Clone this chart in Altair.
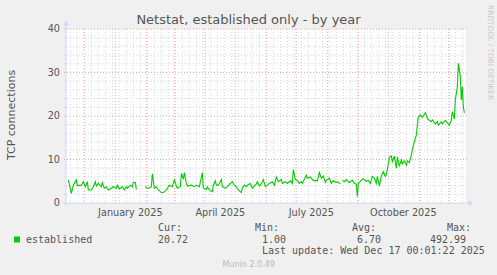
import altair as alt
import pandas as pd

# ---------------- data ----------------
START = "2024-11-12"
END = "2025-12-17"

# day offsets from START and TCP connection counts, three contiguous segments
seg1_days = [3, 6, 8, 11, 12, 16, 18, 20, 22, 23, 26, 28, 30, 31, 33, 36, 37, 39, 41, 43,
             46, 48, 51, 52, 54, 57, 59, 61, 62, 65, 67, 68, 70, 71]
seg1_vals = [5.3, 2.2, 4.1, 5.3, 4.0, 4.1, 4.9, 3.75, 4.9, 3.0, 3.0, 3.75, 4.9, 3.9, 4.5, 3.75, 4.7, 3.4, 3.75, 3.0,
             3.4, 3.75, 3.4, 4.1, 3.2, 3.75, 3.0, 3.75, 3.4, 4.1, 3.75, 4.75, 4.7, 3.1]

seg2_days = [80, 82, 84, 86, 87, 89, 91, 93, 96, 98, 101, 102, 104, 107, 109, 111, 112, 115, 116, 118,
             119, 121, 122, 126, 129, 131, 134, 137, 138, 141, 142, 144, 147, 148, 150, 151, 153, 156, 157, 160,
             162, 165, 167, 169, 171, 173, 176, 177, 179, 181, 182, 185, 187, 191, 192, 194, 196, 198, 200, 202,
             204, 207, 209, 211, 213, 216, 217, 220, 222, 225, 227, 228, 230, 232, 234, 236, 237, 241, 242, 245,
             247, 249, 251, 252, 254, 256, 258, 260, 261, 264, 266, 268, 271, 272, 275]
seg2_vals = [3.75, 3.4, 3.4, 3.75, 6.7, 3.4, 3.75, 3.0, 2.4, 2.4, 3.0, 3.4, 4.1, 3.75, 5.3, 3.9, 3.4, 3.75, 6.8, 5.5,
             7.0, 4.5, 3.9, 4.1, 3.75, 4.1, 3.75, 7.0, 3.4, 3.1, 3.75, 3.0, 2.6, 4.1, 5.1, 4.1, 4.1, 5.4, 3.75, 3.4,
             3.75, 4.5, 4.9, 4.1, 3.75, 3.0, 2.4, 3.4, 4.1, 3.75, 4.1, 4.5, 3.4, 4.4, 4.9, 3.9, 4.4, 5.4, 3.75, 4.1,
             4.5, 4.9, 4.1, 6.0, 4.9, 5.4, 4.5, 4.9, 4.5, 5.1, 4.5, 7.7, 5.4, 5.2, 4.5, 4.9, 4.5, 6.4, 5.7, 6.0,
             5.4, 5.1, 5.2, 5.1, 7.0, 5.7, 6.2, 4.7, 5.2, 5.7, 4.5, 5.1, 4.7, 4.9, 4.4]

seg3_days = [277, 279, 281, 284, 287, 289, 291, 292, 293, 296, 298, 301, 303, 305, 307, 309, 311, 312, 314, 316,
             318, 320, 321, 322, 324, 326, 327, 329, 331, 332, 334, 336, 337, 339, 341, 342, 344, 346, 347, 349,
             351, 352, 353, 355, 357, 358, 360, 362, 363, 366, 367, 370, 372, 373, 376, 377, 380, 382, 384, 386,
             387, 389, 390, 392, 393, 395, 396, 397, 398, 399]
seg3_vals = [5.2, 4.9, 5.4, 4.7, 5.2, 4.5, 4.4, 1.5, 4.5, 5.2, 5.6, 5.0, 5.2, 4.5, 6.1, 5.7, 4.5, 6.1, 3.9, 6.2,
             7.2, 6.1, 6.5, 7.7, 10.5, 10.8, 9.5, 10.8, 8.0, 10.6, 8.4, 9.9, 9.0, 9.7, 8.7, 9.7, 9.3, 11.0, 12.2, 14.1,
             15.6, 17.9, 19.8, 20.2, 19.7, 20.0, 20.8, 19.5, 19.2, 18.7, 19.1, 18.2, 18.7, 17.9, 18.7, 18.2, 19.0, 18.4, 17.9, 19.1,
             21.0, 19.3, 23.7, 26.7, 32.1, 29.0, 23.7, 26.7, 22.1, 20.72]

y_ticks = [0, 10, 20, 30, 40]
y_minor = [2, 4, 6, 8, 12, 14, 16, 18, 22, 24, 26, 28, 32, 34, 36, 38]
y_major = [10, 20, 30, 40]
x_label_dates = ["2025-01-16", "2025-04-16", "2025-07-16", "2025-10-16"]
x_label_text = ["January 2025", "April 2025", "July 2025", "October 2025"]

TITLE = "Netstat, established only - by year"
YTITLE = "TCP connections"
SERIES = "established"
CUR, MIN, AVG, MAX = "20.72", "1.00", "6.70", "492.99"
LAST_UPDATE = "Last update: Wed Dec 17 00:01:22 2025"
WATERMARK = "RRDTOOL / TOBI OETIKER"
FOOTER = "Munin 2.0.49"

# ---------------- build tables ----------------
t0 = pd.Timestamp(START, tz="UTC")
t1 = pd.Timestamp(END, tz="UTC")


def ms(ts):
    return int(pd.Timestamp(ts).timestamp() * 1000)


rows = []
for seg, (dd, vv) in enumerate([(seg1_days, seg1_vals), (seg2_days, seg2_vals), (seg3_days, seg3_vals)]):
    assert len(dd) == len(vv)
    for d, v in zip(dd, vv):
        rows.append({"t": ms(t0 + pd.Timedelta(days=d)), "v": v, "seg": seg})
df = pd.DataFrame(rows)

weeks = pd.DataFrame({"t": [ms(x) for x in pd.date_range(t0, t1, freq="W-SUN")]})
months = pd.DataFrame({"t": [ms(x) for x in pd.date_range(t0, t1, freq="MS")]})
ymin_df = pd.DataFrame({"v": y_minor})
ymaj_df = pd.DataFrame({"v": y_major})
ytick_df = pd.DataFrame({"v": y_ticks, "lab": [str(v) for v in y_ticks]})
xlab_df = pd.DataFrame({"t": [ms(pd.Timestamp(d, tz="UTC")) for d in x_label_dates], "lab": x_label_text})
dummy = pd.DataFrame({"a": [0]})

W, H = 400, 174
L, T = 66, 29

shift = pd.Timedelta(hours=16)
xs = alt.Scale(type="utc", domain=[ms(t0 + shift), ms(t1 + shift)])
ys = alt.Scale(domain=[0, 40], nice=False, zero=True)
X = lambda: alt.X("t:T", scale=xs, axis=None)
Y = lambda: alt.Y("v:Q", scale=ys, axis=None)

FONT = "DejaVu Sans"
MONO = "DejaVu Sans Mono"
TXT = "#555555"
AXC = "#CFD6F8"
GRID = "#D6D6D6"
MGRID = "#F2A8A8"


def text(s, x, y, **kw):
    opts = dict(font=MONO, fontSize=10, color=TXT, align="left", baseline="alphabetic")
    opts.update(kw)
    return alt.Chart(dummy).mark_text(text=s, **opts).encode(
        x=alt.value(x - L), y=alt.value(y - T))


grid_minor_h = alt.Chart(ymin_df).mark_rule(color=GRID, strokeWidth=1, strokeDash=[1, 2]).encode(
    y=Y(), x=alt.value(-2), x2=alt.value(W + 2))
grid_major_h = alt.Chart(ymaj_df).mark_rule(color=MGRID, strokeWidth=1, strokeDash=[1, 2]).encode(
    y=Y(), x=alt.value(-2), x2=alt.value(W + 2))
grid_minor_v = alt.Chart(weeks).mark_rule(color=GRID, strokeWidth=1, strokeDash=[1, 2]).encode(
    x=X(), y=alt.value(0), y2=alt.value(H + 2))
grid_major_v = alt.Chart(months).mark_rule(color=MGRID, strokeWidth=1, strokeDash=[1, 2]).encode(
    x=X(), y=alt.value(0), y2=alt.value(H + 2))

x_axis = alt.Chart(dummy).mark_rule(color=AXC, strokeWidth=1).encode(
    x=alt.value(-3), x2=alt.value(W + 4), y=alt.value(H))
y_axis = alt.Chart(dummy).mark_rule(color=AXC, strokeWidth=1).encode(
    x=alt.value(0), y=alt.value(H + 3), y2=alt.value(-4))
x_arrow = alt.Chart(dummy).mark_point(shape="triangle-right", filled=True, color=AXC, size=30, opacity=1).encode(
    x=alt.value(W + 5), y=alt.value(H))
y_arrow = alt.Chart(dummy).mark_point(shape="triangle-up", filled=True, color=AXC, size=30, opacity=1).encode(
    x=alt.value(0), y=alt.value(-6))

line = alt.Chart(df).mark_line(color="#00CC00", strokeWidth=1.1).encode(
    x=X(), y=Y(), detail="seg:N")

ylabels = alt.Chart(ytick_df).mark_text(font=FONT, fontSize=9.7, color=TXT, align="right", baseline="middle").encode(
    y=Y(), x=alt.value(-6), text="lab:N")
xlabels = alt.Chart(xlab_df).mark_text(font=FONT, fontSize=9.7, color=TXT, align="center", baseline="alphabetic").encode(
    x=X(), y=alt.value(215.5 - T), text="lab:N")

title = text(TITLE, 248.5, 24, font=FONT, fontSize=13, align="center")
ytitle = text(YTITLE, 15, 115, font=FONT, fontSize=11, align="center", angle=270)
watermark = text(WATERMARK, 486, 5, font=FONT, fontSize=7.4, color="#C8C8C8", align="left", baseline="bottom", angle=90)
footer = text(FOOTER, 248.7, 267, font=FONT, fontSize=8, color="#BBBBBB", align="center")

swatch = alt.Chart(dummy).mark_square(color="#00CC00", size=36, opacity=1).encode(
    x=alt.value(17 - L), y=alt.value(239.5 - T))

legend = [
    text(SERIES, 26, 243),
    text("Cur:", 158, 231), text(CUR, 158, 243),
    text("Min:", 255, 231), text(MIN, 262, 243),
    text("Avg:", 352, 231), text(AVG, 357, 243),
    text("Max:", 447, 231), text(MAX, 430, 243),
    text(LAST_UPDATE, 262, 254),
]

chart = alt.layer(
    grid_minor_h, grid_minor_v, grid_major_h, grid_major_v,
    line, x_axis, y_axis, x_arrow, y_arrow,
    ylabels, xlabels, title, ytitle, watermark, footer, swatch, *legend,
).properties(
    width=W, height=H,
    autosize=alt.AutoSizeParams(type="none"),
    padding={"left": L, "top": T, "right": 497 - L - W, "bottom": 275 - T - H},
    background="#F0F0F0",
).configure_view(fill="white", stroke=None)

chart.save("out.html", embed_options={"renderer": "svg", "actions": False})
